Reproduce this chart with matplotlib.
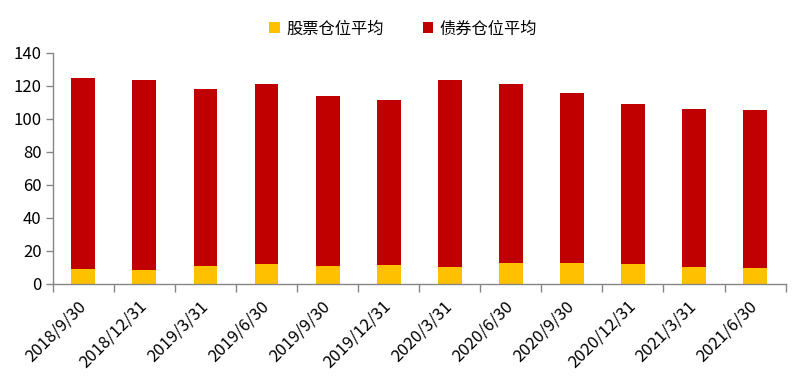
import matplotlib
matplotlib.use("Agg")
import matplotlib.pyplot as plt
import numpy as np

plt.rcParams['font.family'] = ['Noto Sans CJK SC', 'DejaVu Sans']

dates = ["2018/9/30", "2018/12/31", "2019/3/31", "2019/6/30", "2019/9/30", "2019/12/31",
         "2020/3/31", "2020/6/30", "2020/9/30", "2020/12/31", "2021/3/31", "2021/6/30"]
stock = [9.0, 8.5, 10.9, 12.1, 10.9, 11.5, 10.3, 12.7, 12.7, 12.1, 10.3, 9.7]
total = [124.8, 123.6, 118.2, 121.2, 114.0, 111.3, 123.6, 121.2, 115.8, 109.1, 106.1, 105.5]
bond = [t - s for t, s in zip(total, stock)]

stock_label = "股票仓位平均"
bond_label = "债券仓位平均"

fig = plt.figure(figsize=(8, 3.89), dpi=100)
ax = fig.add_axes([0.066, 0.27, 0.916, 0.594])

x = np.arange(len(dates))
w = 0.39
ax.bar(x, stock, width=w, color="#FFC000", label=stock_label, zorder=2)
ax.bar(x, bond, width=w, bottom=stock, color="#C00000", label=bond_label, zorder=2)

ax.set_xlim(-0.5, len(dates) - 0.5)
ax.set_ylim(0, 140)
ax.set_yticks(np.arange(0, 141, 20))
ax.tick_params(axis='y', labelsize=12, length=5, color="#868686", width=1, pad=3)

ax.set_xticks(np.arange(-0.5, len(dates), 1.0), minor=False)
ax.set_xticklabels([])
ax.tick_params(axis='x', which='major', length=6, color="#868686", width=1)
ax.set_xticks(x, minor=True)
ax.set_xticklabels(dates, minor=True, rotation=45, ha='right', va='center',
                   rotation_mode='anchor', fontsize=12)
ax.tick_params(axis='x', which='minor', length=0, pad=14)

for s in ['top', 'right']:
    ax.spines[s].set_visible(False)
for s in ['left', 'bottom']:
    ax.spines[s].set_color("#868686")
    ax.spines[s].set_linewidth(1)

fig.legend(loc='upper center', bbox_to_anchor=(0.504, 0.985), ncol=2, frameon=False,
           fontsize=11.7, handlelength=0.65, handleheight=0.65, handletextpad=0.4, columnspacing=2.4)

fig.savefig("out.png", dpi=100)
